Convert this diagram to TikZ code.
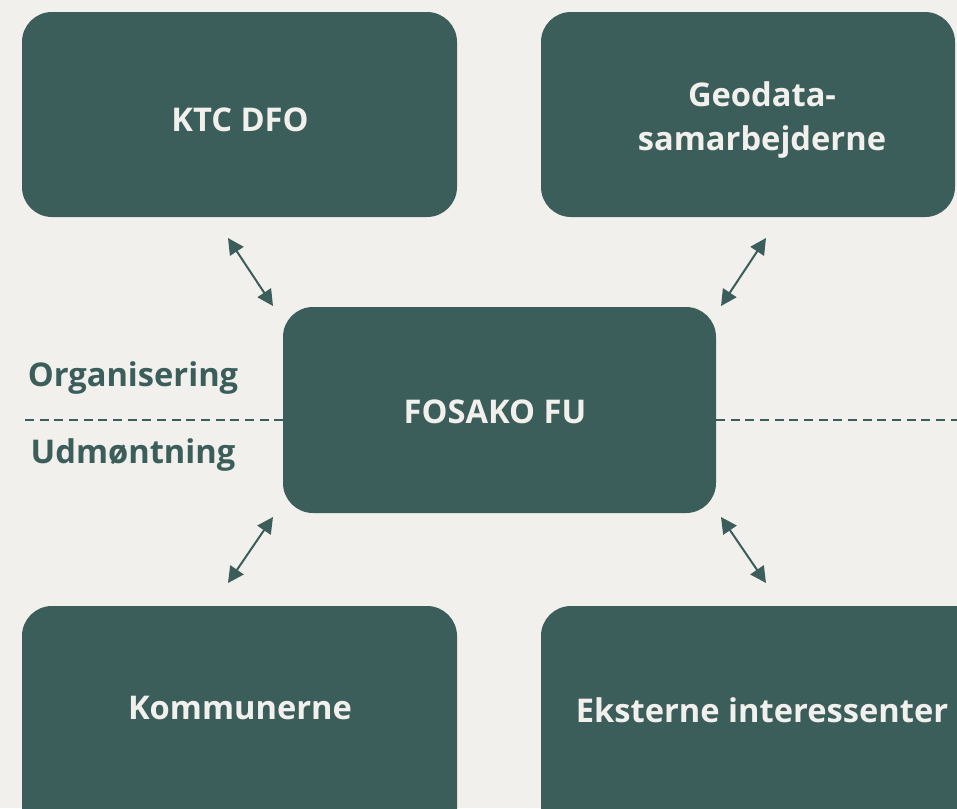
\documentclass[tikz,border=0pt]{standalone}
\usepackage{fontspec}
\setmainfont{Open Sans}
\usetikzlibrary{arrows.meta}
\definecolor{teal}{HTML}{3B5E5A}
\definecolor{bg}{HTML}{F2F0ED}
\tikzset{
  box/.style={fill=teal, draw=none, rounded corners=22.5pt},
  boxtext/.style={text=bg, font=\fontsize{24.5}{33}\selectfont\bfseries, align=center},
  sidelabel/.style={text=teal, font=\fontsize{24.5}{33}\selectfont\bfseries, anchor=center},
  link/.style={draw=teal, line width=1.5pt, {Triangle[length=12pt,width=12pt]}-{Triangle[length=12pt,width=12pt]}},
  divider/.style={draw=teal, line width=1.1pt, dash pattern=on 6.8pt off 4.2pt}
}
\begin{document}
\begin{tikzpicture}[x=0.75pt,y=-0.75pt]
\useasboundingbox (0,0) rectangle (957,808);
\fill[bg] (0,0) rectangle (957,808);
\begin{scope}
\clip (0,0) rectangle (957,808);
\fill[box] (22,12) rectangle (457,217);
\fill[box] (541,12) rectangle (955,217);
\fill[box] (283,307) rectangle (716,513);
\fill[box] (22,606) rectangle (457,840);
\fill[box] (541,606) rectangle (990,840);
\end{scope}
\node[boxtext] (ktc) at (240,120) {KTC DFO};
\node[boxtext] (geo) at (762,120) {Geodata-\\samarbejderne};
\node[boxtext] (fos) at (495,412) {FOSAKO FU};
\node[boxtext] (kom) at (240,708) {Kommunerne};
\node[boxtext] (eks) at (762,710) {Eksterne interessenter};
\node[sidelabel] (org) at (133,378) {Organisering};
\node[sidelabel] (udm) at (133,455) {Udmøntning};
\coordinate (a1s) at (228,238);
\coordinate (a1e) at (273,306);
\coordinate (a2s) at (766,238);
\coordinate (a2e) at (721,306);
\coordinate (a3s) at (273,517);
\coordinate (a3e) at (228,583);
\coordinate (a4s) at (721,517);
\coordinate (a4e) at (766,583);
\draw[link] (a1s) -- (a1e);
\draw[link] (a2s) -- (a2e);
\draw[link] (a3s) -- (a3e);
\draw[link] (a4s) -- (a4e);
\coordinate (dl1) at (25,420);
\coordinate (dl2) at (283,420);
\coordinate (dr1) at (716,420);
\coordinate (dr2) at (957,420);
\draw[divider] (dl1) -- (dl2);
\draw[divider] (dr1) -- (dr2);
\end{tikzpicture}
\end{document}
